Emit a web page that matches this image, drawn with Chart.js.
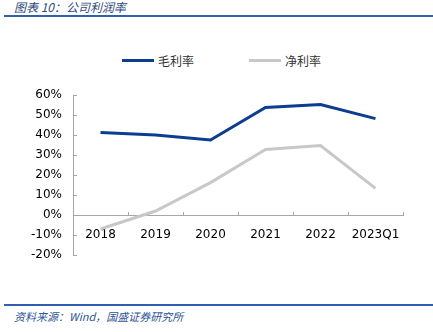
<!DOCTYPE html>
<html>
<head>
<meta charset="utf-8">
<script src="https://cdn.jsdelivr.net/npm/chart.js@4/dist/chart.umd.min.js"></script>
<style>
  html, body { margin: 0; padding: 0; background: #fff; }
  #page { position: relative; width: 433px; height: 332px; overflow: hidden; font-family: "Noto Sans CJK SC", sans-serif; }
  .title { position: absolute; left: 14px; top: -2px; font-size: 12px; font-style: italic; color: #2f4a7a; }
  .rule { position: absolute; left: 4px; right: 0; height: 2px; background: #2f5fae; }
  .source { position: absolute; left: 14px; top: 308px; font-size: 11px; font-style: italic; color: #2f5596; }
  .legend { position: absolute; top: 52px; font-size: 12px; color: #333; display: flex; align-items: center; }
  .legend i { display: inline-block; width: 32px; height: 3px; margin-right: 4px; }
  #wrap { position: absolute; left: 0; top: 80px; width: 433px; height: 190px; }
</style>
</head>
<body>
<div id="page">
  <div class="title">图表 10：公司利润率</div>
  <div class="rule" style="top:15px"></div>
  <div class="legend" style="left:122px"><i style="background:#0b3d91"></i>毛利率</div>
  <div class="legend" style="left:249px"><i style="background:#c8c8c8"></i>净利率</div>
  <div id="wrap"><canvas id="marginChart"></canvas></div>
  <div class="rule" style="top:304px"></div>
  <div class="source">资料来源：Wind，国盛证券研究所</div>
</div>
<script>
const years = ['2018', '2019', '2020', '2021', '2022', '2023Q1'];
const grossMargin = [41.3, 40.0, 37.5, 53.8, 55.2, 48.2];
const netMargin = [-7.0, 2.0, 16.2, 32.8, 34.7, 13.3];
const yTicks = [-20, -10, 0, 10, 20, 30, 40, 50, 60];

const axisColor = '#a6a6a6';
const tickFont = { family: '"DejaVu Sans", sans-serif', size: 12 };

new Chart(document.getElementById('marginChart'), {
    type: 'line',
    data: {
        labels: years,
        datasets: [
            {
                label: '毛利率',
                data: grossMargin,
                borderColor: '#0b3d91',
                borderWidth: 3,
                pointRadius: 0,
                tension: 0
            },
            {
                label: '净利率',
                data: netMargin,
                borderColor: '#c8c8c8',
                borderWidth: 3,
                pointRadius: 0,
                tension: 0
            }
        ]
    },
    options: {
        responsive: true,
        maintainAspectRatio: false,
        animation: false,
        layout: { padding: { left: 0, right: 30, top: 15, bottom: 15 } },
        plugins: {
            legend: { display: false },
            tooltip: { enabled: false }
        },
        scales: {
            x: {
                type: 'category',
                position: { y: 0 },
                offset: true,
                // axis sits on the 0% line, so it takes no room of its own
                afterFit: (scale) => { scale.height = 0; },
                grid: {
                    offset: true,
                    drawOnChartArea: false,
                    drawTicks: true,
                    tickLength: -4,
                    color: axisColor
                },
                border: { color: axisColor, width: 1 },
                ticks: { color: '#000', font: tickFont, padding: 17, maxRotation: 0 }
            },
            y: {
                min: -20,
                max: 60,
                afterFit: (scale) => {
                    scale.width = 73;
                    scale.paddingTop = 0;
                    scale.paddingBottom = 0;
                },
                afterBuildTicks: (scale) => { scale.ticks = yTicks.map(v => ({ value: v })); },
                grid: {
                    drawOnChartArea: false,
                    drawTicks: true,
                    tickLength: -4,
                    color: axisColor
                },
                border: { color: axisColor, width: 1 },
                ticks: {
                    color: '#000',
                    font: tickFont,
                    padding: 15,
                    callback: (v) => v + '%'
                }
            }
        }
    }
});
</script>
</body>
</html>
